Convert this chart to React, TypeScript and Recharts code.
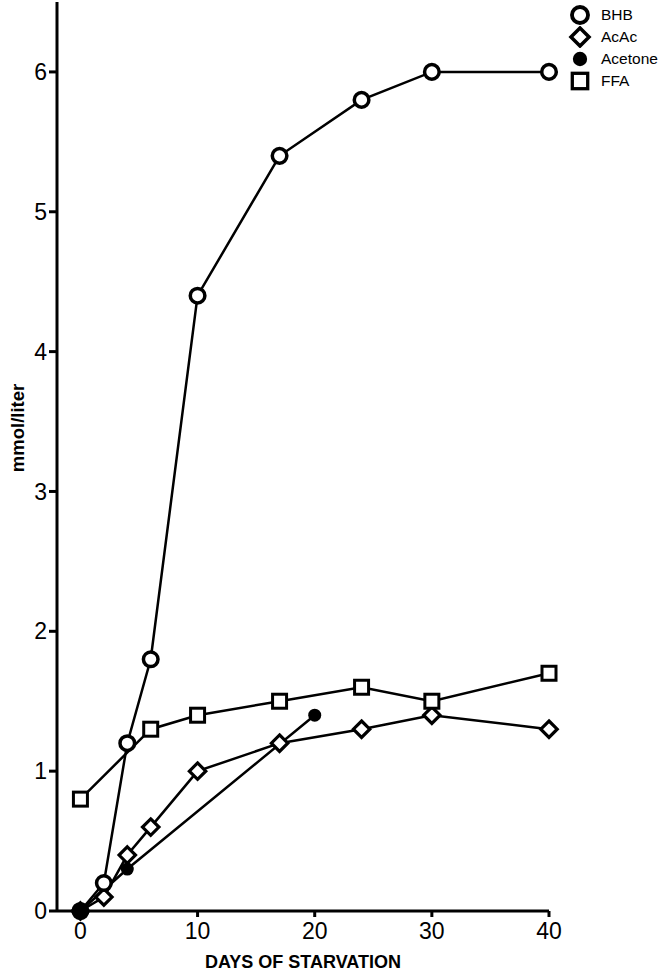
import { LineChart, Line, XAxis, YAxis, Label } from "recharts";

const BHB_DAYS = [0, 2, 4, 6, 10, 17, 24, 30, 40];
const BHB_VALUES = [0, 0.2, 1.2, 1.8, 4.4, 5.4, 5.8, 6.0, 6.0];
const ACAC_DAYS = [0, 2, 4, 6, 10, 17, 24, 30, 40];
const ACAC_VALUES = [0, 0.1, 0.4, 0.6, 1.0, 1.2, 1.3, 1.4, 1.3];
const ACETONE_DAYS = [0, 4, 20];
const ACETONE_VALUES = [0, 0.3, 1.4];
const FFA_DAYS = [0, 6, 10, 17, 24, 30, 40];
const FFA_VALUES = [0.8, 1.3, 1.4, 1.5, 1.6, 1.5, 1.7];
const X_TICKS = [0, 10, 20, 30, 40];
const Y_TICKS = [0, 1, 2, 3, 4, 5, 6];
const LEGEND_NAMES = ["BHB", "AcAc", "Acetone", "FFA"];

const FONT = "'Liberation Sans', Arial, sans-serif";
const INK = "#000";

const toPoints = (days: number[], values: number[]) =>
  days.map((d, i) => ({ day: d, value: values[i] }));

const bhbData = toPoints(BHB_DAYS, BHB_VALUES);
const acacData = toPoints(ACAC_DAYS, ACAC_VALUES);
const acetoneData = toPoints(ACETONE_DAYS, ACETONE_VALUES);
const ffaData = toPoints(FFA_DAYS, FFA_VALUES);

// marker shapes, shared by plot and legend (k scales them up a bit in the legend)
function Marker({ kind, cx, cy, k = 1 }: { kind: string; cx: number; cy: number; k?: number }) {
  if (kind === "BHB")
    return <circle cx={cx} cy={cy} r={7.3 * k} fill="#fff" stroke={INK} strokeWidth={3.5 * k} />;
  if (kind === "AcAc") {
    const s = 8.2 * k;
    return (
      <path
        d={`M${cx},${cy - s}L${cx + s},${cy}L${cx},${cy + s}L${cx - s},${cy}Z`}
        fill="#fff"
        stroke={INK}
        strokeWidth={3.2 * k}
      />
    );
  }
  if (kind === "Acetone") return <circle cx={cx} cy={cy} r={6.5 * k} fill={INK} />;
  const h = 7 * k;
  return (
    <rect x={cx - h} y={cy - h} width={2 * h} height={2 * h} fill="#fff" stroke={INK} strokeWidth={3 * k} />
  );
}

const dotFor = (kind: string) => (props: any) => {
  const { cx, cy, index } = props;
  if (cx == null || cy == null) return <g key={`${kind}-${index}`} />;
  return (
    <g key={`${kind}-${index}`}>
      <Marker kind={kind} cx={cx} cy={cy} />
    </g>
  );
};

function ChartLegend() {
  return (
    <div style={{ position: "absolute", left: 567, top: 4, fontFamily: FONT, fontSize: 15.5 }}>
      {LEGEND_NAMES.map((name) => (
        <div key={name} style={{ display: "flex", alignItems: "center", height: 22 }}>
          <svg width={26} height={22}>
            <Marker kind={name} cx={13} cy={11} k={1.1} />
          </svg>
          <span style={{ marginLeft: 8, color: INK }}>{name}</span>
        </div>
      ))}
    </div>
  );
}

export default function App() {
  return (
    <div style={{ position: "absolute", left: 0, top: 0, width: 661, height: 974, background: "#fff" }}>
      <LineChart width={661} height={974} margin={{ top: 2, right: 112, bottom: 0, left: 0 }}>
        <XAxis
          type="number"
          dataKey="day"
          domain={[-2, 40]}
          ticks={X_TICKS}
          height={63}
          stroke={INK}
          strokeWidth={3}
          tickSize={6}
          tickMargin={6}
          tick={{ fill: INK, fontSize: 23, fontFamily: FONT }}
        >
          <Label
            value="DAYS OF STARVATION"
            position="insideBottom"
            offset={6}
            style={{ fill: INK, fontSize: 18, fontWeight: 700, fontFamily: FONT }}
          />
        </XAxis>
        <YAxis
          type="number"
          dataKey="value"
          domain={[0, 6.5]}
          ticks={Y_TICKS}
          width={57}
          stroke={INK}
          strokeWidth={3}
          tickSize={8}
          tickMargin={2}
          tick={{ fill: INK, fontSize: 23, fontFamily: FONT }}
        >
          <Label
            content={() => (
              <text
                x={24}
                y={428}
                transform="rotate(-90 24 428)"
                textAnchor="middle"
                style={{ fill: INK, fontSize: 18.5, fontWeight: 700, fontFamily: FONT }}
              >
                mmol/liter
              </text>
            )}
          />
        </YAxis>
        {/* draw order: diamonds under circles, acetone dots on top */}
        <Line
          data={acacData}
          dataKey="value"
          name="AcAc"
          stroke={INK}
          strokeWidth={2.5}
          dot={dotFor("AcAc")}
          isAnimationActive={false}
        />
        <Line
          data={bhbData}
          dataKey="value"
          name="BHB"
          stroke={INK}
          strokeWidth={2.5}
          dot={dotFor("BHB")}
          isAnimationActive={false}
        />
        <Line
          data={ffaData}
          dataKey="value"
          name="FFA"
          stroke={INK}
          strokeWidth={2.5}
          dot={dotFor("FFA")}
          isAnimationActive={false}
        />
        <Line
          data={acetoneData}
          dataKey="value"
          name="Acetone"
          stroke={INK}
          strokeWidth={2.5}
          dot={dotFor("Acetone")}
          isAnimationActive={false}
        />
      </LineChart>
      <ChartLegend />
    </div>
  );
}
